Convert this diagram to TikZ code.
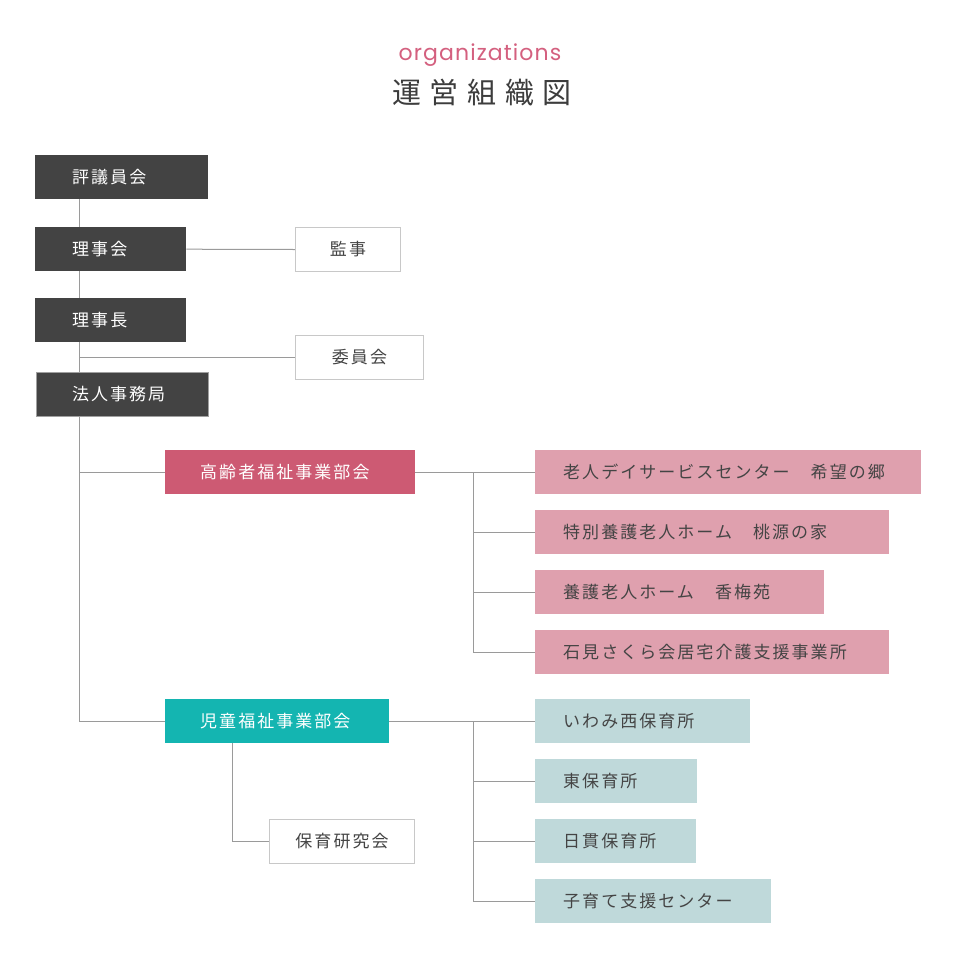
\documentclass[tikz,border=0pt]{standalone}
\usepackage{fontspec}
\setmainfont{Noto Sans CJK JP}
\newfontfamily\jp[LetterSpace=12]{Noto Sans CJK JP}
\newfontfamily\jptitle[LetterSpace=30]{Noto Sans CJK JP}
\newfontfamily\latintitle[LetterSpace=5]{Poppins}
\usetikzlibrary{backgrounds}
\definecolor{darkbox}{HTML}{434343}
\definecolor{pinkbox}{HTML}{CD5A73}
\definecolor{pinklight}{HTML}{DFA0AE}
\definecolor{tealbox}{HTML}{14B5B1}
\definecolor{teallight}{HTML}{BFD9DA}
\definecolor{linegray}{HTML}{9A9A9A}
\definecolor{bordergray}{HTML}{C8C8C8}
\definecolor{textgray}{HTML}{444444}
\definecolor{titlepink}{HTML}{D4607F}
\tikzset{
  conn/.style={draw=linegray, line width=1pt},
  basebox/.style={anchor=north west, inner sep=0pt, minimum height=44pt,
    font=\jp\fontsize{17}{20}\selectfont},
  darkn/.style={basebox, fill=darkbox, text=white},
  pinkn/.style={basebox, fill=pinkbox, text=white},
  tealn/.style={basebox, fill=tealbox, text=white},
  pinkl/.style={basebox, fill=pinklight, text=textgray},
  teall/.style={basebox, fill=teallight, text=textgray},
  whiten/.style={basebox, fill=white, draw=bordergray, line width=1pt, text=textgray, align=center},
}
\begin{document}
\begin{tikzpicture}[x=1pt,y=-1pt]
\useasboundingbox (0,0) rectangle (960,970);

\node[font=\latintitle\fontsize{22}{24}\selectfont, text=titlepink] (orgs) at (480,55) {organizations};
\node[font=\jptitle\fontsize{29}{32}\selectfont, text=textgray!90!black] (maintitle) at (482,92.5) {運営組織図};

% left column
\node[darkn, text width=173pt, align=left] (hyogi) at (35,155) {\hspace*{37pt}評議員会};
\node[darkn, text width=151pt, align=left] (rijikai) at (35,227) {\hspace*{37pt}理事会};
\node[whiten, text width=105pt] (kanji) at (295,227) {監事};
\node[darkn, text width=151pt, align=left] (rijicho) at (35,298) {\hspace*{37pt}理事長};
\node[whiten, text width=128pt] (iinkai) at (295,335) {委員会};
\node[darkn, draw=bordergray!70!darkbox, line width=1pt, text width=172pt, align=left] (jimukyoku) at (35.5,371.5) {\hspace*{36pt}法人事務局};

% elderly welfare
\node[pinkn, text width=250pt, align=left] (korei) at (165,450) {\hspace*{35pt}高齢者福祉事業部会};
\node[pinkl, text width=386pt, align=left] (p1) at (535,450) {\hspace*{28pt}老人デイサービスセンター　希望の郷};
\node[pinkl, text width=354pt, align=left] (p2) at (535,510) {\hspace*{28pt}特別養護老人ホーム　桃源の家};
\node[pinkl, text width=289pt, align=left] (p3) at (535,570) {\hspace*{28pt}養護老人ホーム　香梅苑};
\node[pinkl, text width=354pt, align=left] (p4) at (535,630) {\hspace*{28pt}石見さくら会居宅介護支援事業所};

% child welfare
\node[tealn, text width=224pt, align=left] (jido) at (165,699) {\hspace*{35pt}児童福祉事業部会};
\node[teall, text width=215pt, align=left] (t1) at (535,699) {\hspace*{28pt}いわみ西保育所};
\node[teall, text width=162pt, align=left] (t2) at (535,759) {\hspace*{28pt}東保育所};
\node[teall, text width=161pt, align=left] (t3) at (535,819) {\hspace*{28pt}日貫保育所};
\node[teall, text width=236pt, align=left] (t4) at (535,879) {\hspace*{28pt}子育て支援センター};
\node[whiten, text width=145pt] (kenkyu) at (269,819) {保育研究会};

\coordinate (trunk) at (79,0);
\coordinate (kb) at (473,0);
\coordinate (jb) at (232,0);

\begin{scope}[on background layer]
\fill[white] (0,0) rectangle (960,970);
\draw[conn] (trunk |- hyogi.south) -- (trunk |- jido.west) -- (jido.west);
\draw[conn] (rijikai.east) -- (kanji.west);
\draw[conn] (trunk |- iinkai.west) -- (iinkai.west);
\draw[conn] (trunk |- korei.west) -- (korei.west);
\draw[conn] (korei.east) -- (p1.west);
\draw[conn] (kb |- korei.east) -- (kb |- p4.west) -- (p4.west);
\draw[conn] (kb |- p2.west) -- (p2.west);
\draw[conn] (kb |- p3.west) -- (p3.west);
\draw[conn] (jido.east) -- (t1.west);
\draw[conn] (kb |- jido.east) -- (kb |- t4.west) -- (t4.west);
\draw[conn] (kb |- t2.west) -- (t2.west);
\draw[conn] (kb |- t3.west) -- (t3.west);
\draw[conn] (jb |- jido.south) |- (kenkyu.west);
\end{scope}
\end{tikzpicture}
\end{document}
